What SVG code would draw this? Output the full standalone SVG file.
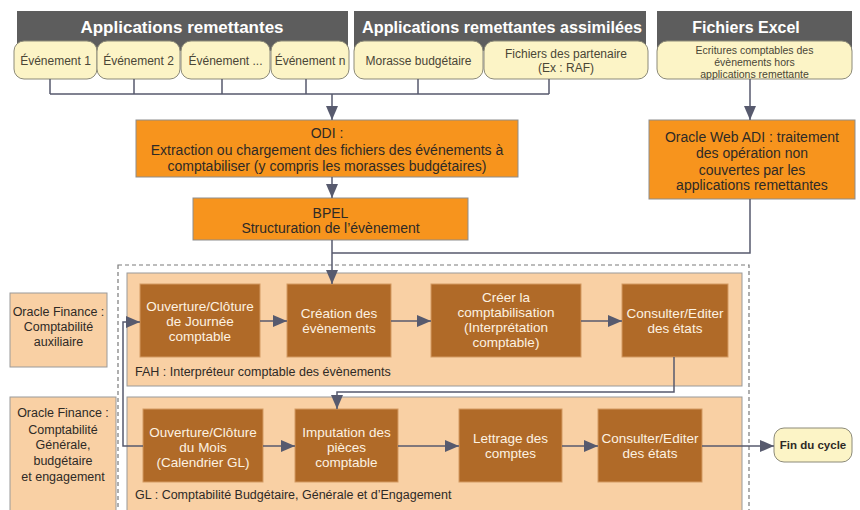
<svg xmlns="http://www.w3.org/2000/svg" width="860" height="510" viewBox="0 0 860 510">
<defs>
<style>
text{font-family:"Liberation Sans",Arial,sans-serif;text-anchor:middle}
.bar{fill:#5d5d5d}
.hdr{fill:#ffffff;font-weight:bold}
.pill{fill:#fcf4c6;stroke:#8c8a78;stroke-width:1}
.pt{fill:#4a4636;font-size:12px}
.pt2{fill:#4a4636;font-size:10.5px}
.org{fill:#f7941d;stroke:#8d8d8d;stroke-width:1}
.ot{fill:#2e2a26;font-size:14px}
.brn{fill:#b06a28;stroke:#d49a62;stroke-width:1}
.bt{fill:#fdf2e2;font-size:13.5px}
.pan{fill:#f9d0a4;stroke:#9a9a9a;stroke-width:1}
.lt{fill:#2e2a26;font-size:12.5px}
.pl{fill:#2e2a26;font-size:12.5px;text-anchor:start}
.c{fill:none;stroke:#575a6e;stroke-width:1.5}
</style>
<marker id="ah" markerUnits="userSpaceOnUse" markerWidth="14" markerHeight="12" refX="14" refY="6" orient="auto">
<path d="M0,0 L14,6 L0,12 z" fill="#575a6e"/>
</marker>
</defs>

<!-- panels -->
<rect x="118" y="265" width="631" height="260" fill="none" stroke="#7a7a7a" stroke-width="1.2" stroke-dasharray="4,3"/>
<g id="fah-panel"><rect class="pan" x="127" y="273" width="615" height="113"/>
<text class="pl" x="135" y="376">FAH : Interpréteur comptable des évènements</text></g>
<g id="gl-panel"><rect class="pan" x="127" y="397" width="615" height="130"/>
<text class="pl" x="135" y="499">GL : Comptabilité Budgétaire, Générale et d’Engagement</text></g>

<!-- headers -->
<g id="hdr-apps"><rect class="bar" x="17" y="11" width="331" height="40"/>
<text class="hdr" x="182" y="33" font-size="17">Applications remettantes</text></g>
<g id="hdr-assim"><rect class="bar" x="354" y="11" width="292" height="40"/>
<text class="hdr" x="502" y="33" font-size="16.2">Applications remettantes assimilées</text></g>
<g id="hdr-excel"><rect class="bar" x="657" y="11" width="195" height="40"/>
<text class="hdr" x="746" y="33" font-size="16">Fichiers Excel</text></g>

<!-- pills -->
<g id="ev1"><rect class="pill" x="14" y="41" width="83" height="38" rx="10"/><text class="pt" x="55.5" y="65">Événement 1</text></g>
<g id="ev2"><rect class="pill" x="97" y="41" width="83" height="38" rx="10"/><text class="pt" x="138.5" y="65">Événement 2</text></g>
<g id="ev3"><rect class="pill" x="181" y="41" width="89" height="38" rx="10"/><text class="pt" x="225.5" y="65">Événement ...</text></g>
<g id="evn"><rect class="pill" x="271" y="41" width="78" height="38" rx="10"/><text class="pt" x="310" y="65">Événement n</text></g>
<g id="morasse"><rect class="pill" x="354" y="41" width="129" height="38" rx="10"/><text class="pt" x="418.5" y="65">Morasse budgétaire</text></g>
<g id="partenaire"><rect class="pill" x="484" y="41" width="164" height="38" rx="10"/><text class="pt" x="566" y="58">Fichiers des partenaire</text><text class="pt" x="566" y="72">(Ex : RAF)</text></g>
<g id="excel"><rect class="pill" x="657" y="41" width="195" height="38" rx="10"/>
<text class="pt2" x="754.5" y="53.5">Ecritures comptables des</text>
<text class="pt2" x="754.5" y="65.5">évènements hors</text>
<text class="pt2" x="754.5" y="77.5">applications remettante</text></g>

<!-- orange boxes -->
<g id="odi"><rect class="org" x="136" y="120" width="382" height="57"/>
<text class="ot" x="327" y="138">ODI :</text>
<text class="ot" x="327" y="155">Extraction ou chargement des fichiers des événements à</text>
<text class="ot" x="327" y="171">comptabiliser (y compris les morasses budgétaires)</text></g>
<g id="bpel"><rect class="org" x="193" y="198" width="275" height="42"/>
<text class="ot" x="330.5" y="218">BPEL</text>
<text class="ot" x="330.5" y="233">Structuration de l’évènement</text></g>
<g id="webadi"><rect class="org" x="649" y="120" width="206" height="79"/>
<text class="ot" x="752" y="142">Oracle Web ADI : traitement</text>
<text class="ot" x="752" y="158">des opération non</text>
<text class="ot" x="752" y="175">couvertes par les</text>
<text class="ot" x="752" y="190">applications remettantes</text></g>

<!-- left labels -->
<g id="of-aux"><rect class="pan" x="10" y="293" width="97" height="74"/>
<text class="lt" x="58.5" y="316">Oracle Finance :</text>
<text class="lt" x="58.5" y="331">Comptabilité</text>
<text class="lt" x="58.5" y="346">auxiliaire</text></g>
<g id="of-gl"><rect class="pan" x="10" y="397" width="106" height="130"/>
<text class="lt" x="63" y="417">Oracle Finance :</text>
<text class="lt" x="63" y="434">Comptabilité</text>
<text class="lt" x="63" y="449">Générale,</text>
<text class="lt" x="63" y="465">budgétaire</text>
<text class="lt" x="63" y="481">et engagement</text></g>

<!-- FAH boxes -->
<g id="journee"><rect class="brn" x="140" y="284" width="120" height="73"/>
<text class="bt" x="200" y="311">Ouverture/Clôture</text>
<text class="bt" x="200" y="326">de Journée</text>
<text class="bt" x="200" y="341">comptable</text></g>
<g id="creation"><rect class="brn" x="287" y="284" width="104" height="73"/>
<text class="bt" x="339" y="318">Création des</text>
<text class="bt" x="339" y="333">évènements</text></g>
<g id="creer"><rect class="brn" x="431" y="284" width="150" height="73"/>
<text class="bt" x="506" y="302">Créer la</text>
<text class="bt" x="506" y="317">comptabilisation</text>
<text class="bt" x="506" y="332">(Interprétation</text>
<text class="bt" x="506" y="347">comptable)</text></g>
<g id="consulter1"><rect class="brn" x="622" y="284" width="106" height="73"/>
<text class="bt" x="675" y="318">Consulter/Editer</text>
<text class="bt" x="675" y="333">des états</text></g>

<!-- GL boxes -->
<g id="mois"><rect class="brn" x="143" y="409" width="120" height="73"/>
<text class="bt" x="203" y="437">Ouverture/Clôture</text>
<text class="bt" x="203" y="452">du Mois</text>
<text class="bt" x="203" y="467">(Calendrier GL)</text></g>
<g id="imputation"><rect class="brn" x="295" y="409" width="103" height="73"/>
<text class="bt" x="346.5" y="437">Imputation des</text>
<text class="bt" x="346.5" y="452">pièces</text>
<text class="bt" x="346.5" y="467">comptable</text></g>
<g id="lettrage"><rect class="brn" x="459" y="409" width="103" height="73"/>
<text class="bt" x="510.5" y="443">Lettrage des</text>
<text class="bt" x="510.5" y="458">comptes</text></g>
<g id="consulter2"><rect class="brn" x="598" y="409" width="104" height="73"/>
<text class="bt" x="650" y="443">Consulter/Editer</text>
<text class="bt" x="650" y="458">des états</text></g>
<g id="fin"><rect x="774" y="428" width="78" height="34" rx="10" fill="#fcf4c6" stroke="#8c8a78"/>
<text x="813" y="449" font-size="11.5" font-weight="bold" fill="#2e2a26">Fin du cycle</text></g>

<!-- connectors -->
<g id="connectors">
<path class="c" d="M50,79 V94 M134,79 V94 M222,79 V94 M306,79 V94 M418,79 V94 M549,79 V94 M50,94 H549"/>
<path class="c" d="M332,94 V120" marker-end="url(#ah)"/>
<path class="c" d="M332,177 V198" marker-end="url(#ah)"/>
<path class="c" d="M332,240 V284" marker-end="url(#ah)"/>
<path class="c" d="M750,199 V253 H332"/>
<path class="c" d="M750,79 V120" marker-end="url(#ah)"/>
<path class="c" d="M260,321 H287" marker-end="url(#ah)"/>
<path class="c" d="M391,321 H431" marker-end="url(#ah)"/>
<path class="c" d="M581,321 H622" marker-end="url(#ah)"/>
<path class="c" d="M143,446 H123 V322 H140" marker-end="url(#ah)"/>
<path class="c" d="M674,357 V392 H337 V409" marker-end="url(#ah)"/>
<path class="c" d="M263,446 H295" marker-end="url(#ah)"/>
<path class="c" d="M398,446 H459" marker-end="url(#ah)"/>
<path class="c" d="M562,446 H598" marker-end="url(#ah)"/>
<path class="c" d="M702,446 H774" marker-end="url(#ah)"/>
</g>
</svg>
